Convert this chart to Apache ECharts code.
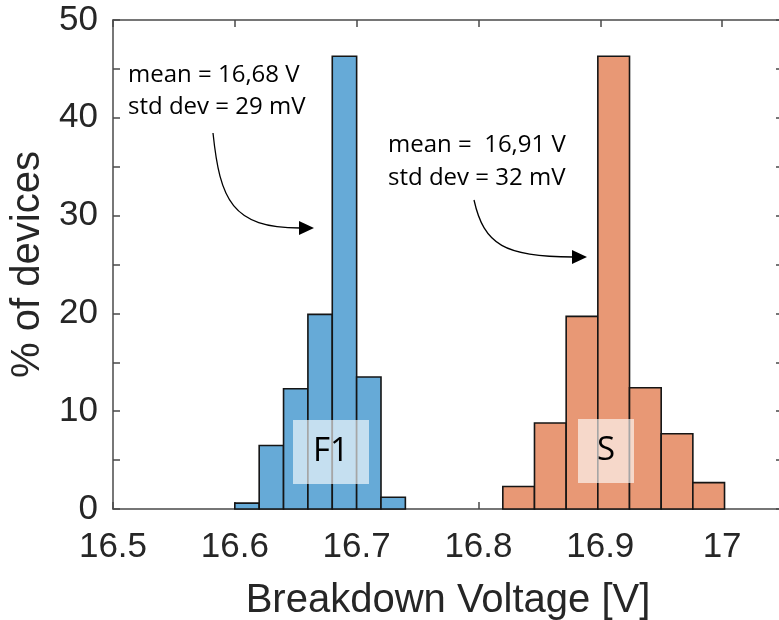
<!DOCTYPE html>
<html>
<head>
<meta charset="utf-8">
<script src="https://cdn.jsdelivr.net/npm/echarts@6/dist/echarts.min.js"></script>
<style>
html, body { margin: 0; padding: 0; background: #fff; }
#main { width: 779px; height: 620px; }
</style>
</head>
<body>
<div id="main"></div>
<script>
// bin edges [V] and heights [% of devices]
var f1Edges = [16.60, 16.62, 16.64, 16.66, 16.68, 16.70, 16.72, 16.74];
var f1Pct = [0.6, 6.5, 12.3, 19.9, 46.3, 13.5, 1.2];
var sEdges = [16.820, 16.846, 16.872, 16.898, 16.924, 16.950, 16.976, 17.002];
var sPct = [2.3, 8.8, 19.7, 46.3, 12.4, 7.7, 2.7];
var xTicks = [16.5, 16.6, 16.7, 16.8, 16.9, 17];

var axisColor = '#4a4a4a';
var textColor = '#262626';

function toBins(edges, pct) {
	var out = [];
	for (var i = 0; i < pct.length; i++) {
		out.push([edges[i], edges[i + 1], pct[i]]);
	}
	return out;
}

function histItem(color) {
	return function(params, api) {
		var p0 = api.coord([api.value(0), api.value(2)]);
		var p1 = api.coord([api.value(1), 0]);
		return {
			type: 'rect',
			shape: { x: p0[0], y: p0[1], width: p1[0] - p0[0], height: p1[1] - p0[1] },
			style: { fill: color, stroke: '#151515', lineWidth: 1.6 }
		};
	};
}

function arrow(pts, tip) {
	// curved arrow: bezier + triangle head
	return [{
		type: 'bezierCurve',
		shape: { x1: pts[0], y1: pts[1], cpx1: pts[2], cpy1: pts[3], cpx2: pts[4], cpy2: pts[5], x2: pts[6], y2: pts[7] },
		style: { stroke: '#000', lineWidth: 1.3, fill: null },
		z: 100
	}, {
		type: 'polygon',
		shape: { points: [[tip[0], tip[1]], [tip[0] - 15, tip[1] - 7], [tip[0] - 15, tip[1] + 7]] },
		style: { fill: '#000' },
		z: 100
	}];
}

function label(x, y, text) {
	return {
		type: 'text', x: x, y: y, z: 100,
		style: { text: text, fill: '#000', font: '24px "Open Sans"', verticalAlign: 'middle' }
	};
}

function box(x, y, w, h, text) {
	return [{
		type: 'rect', z: 100,
		shape: { x: x, y: y, width: w, height: h },
		style: { fill: 'rgba(255,255,255,0.62)' }
	}, {
		type: 'text', z: 101, x: x + w / 2, y: y + h / 2,
		style: { text: text, fill: '#000', font: '33px "Open Sans"', align: 'center', verticalAlign: 'middle' }
	}];
}

var myChart = echarts.init(document.getElementById('main'));
var option = {
	animation: false,
	backgroundColor: '#fff',
	grid: { left: 113, top: 20, right: -4, bottom: 111, outerBoundsMode: 'none', containLabel: false },
	xAxis: [{
		type: 'value', min: 16.5, max: 17.05, interval: 0.1,
		name: 'Breakdown Voltage [V]', nameLocation: 'middle', nameGap: 72,
		nameTextStyle: { fontSize: 40, color: textColor, fontFamily: 'Liberation Sans' },
		axisLine: { show: true, onZero: false, lineStyle: { color: axisColor, width: 1.5 } },
		axisTick: { inside: true, length: 7, lineStyle: { color: axisColor, width: 1.5 } },
		axisLabel: {
			margin: 21, fontSize: 35, color: textColor, fontFamily: 'Liberation Sans', showMaxLabel: false,
			formatter: function(v) {
				var r = Math.round(v * 10) / 10;
				return xTicks.indexOf(r) >= 0 ? String(r) : '';
			}
		},
		splitLine: { show: false }
	}, {
		type: 'value', position: 'top', min: 16.5, max: 17.05, interval: 0.1,
		axisLine: { show: true, onZero: false, lineStyle: { color: axisColor, width: 1.5 } },
		axisTick: { inside: true, length: 7, lineStyle: { color: axisColor, width: 1.5 } },
		axisLabel: { show: false },
		splitLine: { show: false }
	}],
	yAxis: [{
		type: 'value', min: 0, max: 50, interval: 10,
		name: '% of devices', nameLocation: 'middle', nameGap: 58, nameRotate: 90,
		nameTextStyle: { fontSize: 40, color: textColor, fontFamily: 'Liberation Sans' },
		axisLine: { show: true, lineStyle: { color: axisColor, width: 1.5 } },
		axisTick: { inside: true, length: 7, lineStyle: { color: axisColor, width: 1.5 } },
		minorTick: { show: true, splitNumber: 2, length: 7, lineStyle: { color: axisColor, width: 1.5 } },
		axisLabel: { margin: 15, fontSize: 35, color: textColor, fontFamily: 'Liberation Sans' },
		splitLine: { show: false }
	}, {
		type: 'value', position: 'right', min: 0, max: 50, interval: 10,
		axisLine: { show: true, lineStyle: { color: axisColor, width: 1.5 } },
		axisTick: { inside: true, length: 7, lineStyle: { color: axisColor, width: 1.5 } },
		minorTick: { show: true, splitNumber: 2, length: 7, lineStyle: { color: axisColor, width: 1.5 } },
		axisLabel: { show: false },
		splitLine: { show: false }
	}],
	series: [{
		name: 'F1', type: 'custom', renderItem: histItem('#66aad7'),
		encode: { x: [0, 1], y: 2 },
		data: toBins(f1Edges, f1Pct)
	}, {
		name: 'S', type: 'custom', renderItem: histItem('#e89875'),
		encode: { x: [0, 1], y: 2 },
		data: toBins(sEdges, sPct)
	}],
	graphic: [].concat(
		arrow([213, 133, 220, 200, 232, 228, 300, 228], [314, 228]),
		arrow([474, 200, 484, 245, 505, 257, 573, 257], [587, 257]),
		[
			label(128, 75, 'mean = 16,68 V'),
			label(128, 107, 'std dev = 29 mV'),
			label(388, 145, 'mean =  16,91 V'),
			label(388, 178, 'std dev = 32 mV')
		],
		box(293, 420, 76, 64, 'F1'),
		box(578, 419, 56, 64, 'S')
	)
};
myChart.setOption(option);
</script>
</body>
</html>
